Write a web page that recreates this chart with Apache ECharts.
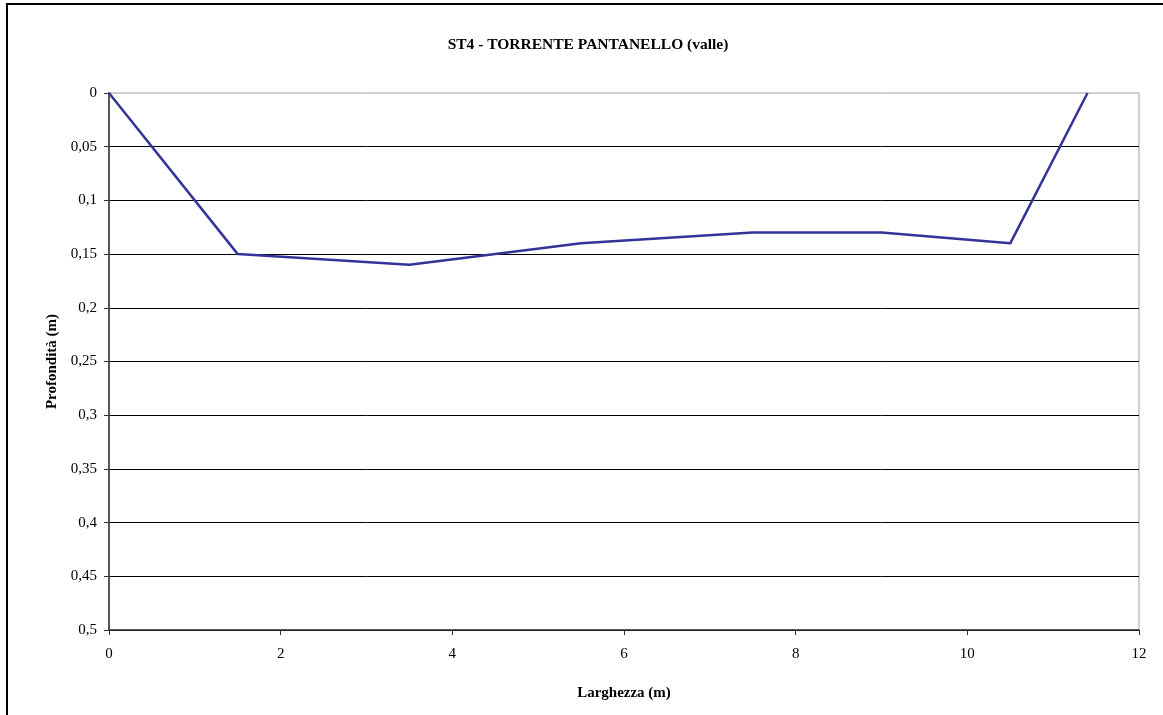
<!DOCTYPE html>
<html>
<head>
<meta charset="utf-8">
<script src="https://cdn.jsdelivr.net/npm/echarts@6/dist/echarts.min.js"></script>
<style>
html,body{margin:0;padding:0;background:#fff;}
#chart{width:1163px;height:715px;}
</style>
</head>
<body>
<div id="chart"></div>
<script>
const widths = [0, 1.5, 3.5, 5.5, 7.5, 9, 10.5, 11.4];
const depths = [0, 0.15, 0.16, 0.14, 0.13, 0.13, 0.14, 0];
const titleText = 'ST4 - TORRENTE PANTANELLO (valle)';
const xName = 'Larghezza (m)';
const yName = 'Profondità (m)';

const chart = echarts.init(document.getElementById('chart'), null, {renderer: 'canvas'});
const font = 'Liberation Serif';
chart.setOption({
  animation: false,
  backgroundColor: '#fff',
  title: {
    text: titleText, left: 583, top: 32, textAlign: 'center',
    textStyle: {fontFamily: font, fontSize: 15.5, fontWeight: 'bold', color: '#000'}
  },
  grid: {left: 109, right: 24, top: 93, bottom: 85, show: true, borderColor: '#a0a0a0', borderWidth: 1, backgroundColor: '#fff'},
  graphic: [
    {type: 'line', shape: {x1: 7, y1: 3, x2: 7, y2: 715}, style: {stroke: '#000', lineWidth: 2}},
    {type: 'line', shape: {x1: 6, y1: 4, x2: 1163, y2: 4}, style: {stroke: '#000', lineWidth: 2}}
  ],
  xAxis: {
    type: 'value', min: 0, max: 12, interval: 2, position: 'bottom',
    name: xName, nameLocation: 'middle', nameGap: 56,
    nameTextStyle: {fontFamily: font, fontSize: 15, fontWeight: 'bold', color: '#000'},
    axisLine: {onZero: false, lineStyle: {color: '#333', width: 1.5}},
    axisTick: {show: true, length: 5, inside: false, lineStyle: {color: '#333'}},
    axisLabel: {fontFamily: font, fontSize: 15, color: '#000', margin: 17},
    splitLine: {show: false}
  },
  yAxis: {
    type: 'value', min: 0, max: 0.5, interval: 0.05, inverse: true,
    name: yName, nameLocation: 'middle', nameGap: 46, nameRotate: 90,
    nameTextStyle: {fontFamily: font, fontSize: 15, fontWeight: 'bold', color: '#000'},
    axisLine: {show: true, onZero: false, lineStyle: {color: '#555', width: 2}},
    axisTick: {show: true, length: 5, inside: false, lineStyle: {color: '#333'}},
    axisLabel: {fontFamily: font, fontSize: 15, color: '#000', margin: 12,
      formatter: v => String(Math.round(v * 100) / 100).replace('.', ',')},
    splitLine: {show: true, showMinLine: false, lineStyle: {color: '#000', width: 1}}
  },
  series: [{
    type: 'line',
    data: widths.map((w, i) => [w, depths[i]]),
    symbol: 'none',
    lineStyle: {color: '#333399', width: 2.5},
    clip: false
  }]
});
</script>
</body>
</html>
